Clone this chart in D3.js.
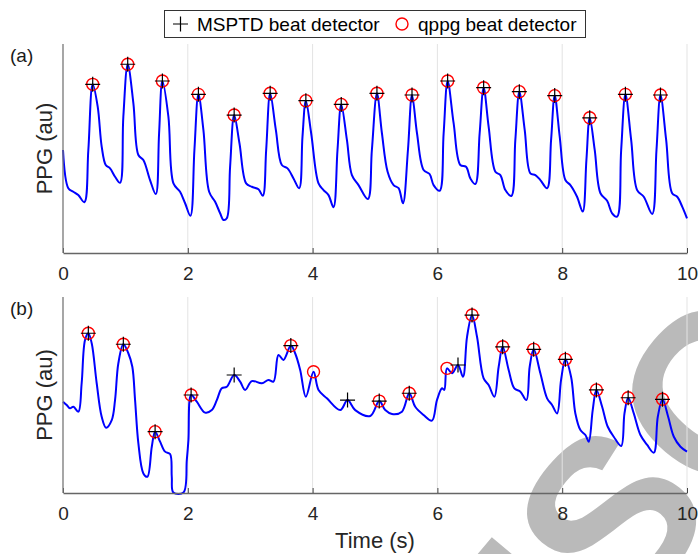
<!DOCTYPE html>
<html>
<head>
<meta charset="utf-8">
<script src="https://cdn.jsdelivr.net/npm/d3@7"></script>
<style>
  body { margin: 0; background: #fff; }
  svg { display: block; font-family: "Liberation Sans", Arial, sans-serif; }
</style>
</head>
<body>
<div id="chart"></div>
<script>
// Panel (a) PPG signal, time in s, amplitude normalised 0..1
var timeA = [0,0.085,0.165,0.245,0.342,0.406,0.476,0.556,0.62,0.685,0.754,0.834,0.914,0.967,1.037,1.128,1.208,1.288,1.395,1.487,1.54,1.593,1.689,1.77,1.876,1.957,2.042,2.106,2.17,2.25,2.342,2.438,2.518,2.571,2.625,2.678,2.743,2.828,2.935,3.026,3.133,3.202,3.256,3.32,3.411,3.507,3.598,3.694,3.785,3.838,3.892,3.977,4.095,4.175,4.255,4.335,4.399,4.459,4.55,4.63,4.736,4.886,4.95,5.031,5.111,5.202,5.298,5.378,5.448,5.528,5.593,5.673,5.779,5.875,5.939,6.036,6.1,6.164,6.26,6.367,6.459,6.528,6.608,6.677,6.741,6.821,6.929,7.009,7.089,7.185,7.249,7.313,7.399,7.49,7.57,7.65,7.758,7.822,7.88,7.96,8.051,8.131,8.238,8.329,8.388,8.441,8.521,8.613,8.72,8.8,8.88,8.945,9.013,9.105,9.201,9.307,9.442,9.511,9.575,9.666,9.762,9.843,9.923,10];
var ppgA = [0.493,0.31,0.293,0.277,0.243,0.493,0.807,0.70,0.509,0.421,0.405,0.365,0.336,0.652,0.903,0.716,0.469,0.445,0.349,0.282,0.573,0.823,0.652,0.333,0.293,0.238,0.178,0.493,0.759,0.589,0.293,0.245,0.19,0.158,0.166,0.413,0.66,0.525,0.333,0.317,0.305,0.274,0.493,0.764,0.589,0.421,0.405,0.357,0.31,0.557,0.729,0.573,0.333,0.301,0.277,0.219,0.493,0.711,0.541,0.373,0.325,0.258,0.493,0.764,0.573,0.389,0.325,0.31,0.238,0.493,0.756,0.573,0.397,0.378,0.325,0.298,0.573,0.823,0.621,0.421,0.413,0.357,0.33,0.573,0.791,0.605,0.389,0.373,0.301,0.273,0.541,0.772,0.589,0.381,0.373,0.349,0.31,0.541,0.753,0.557,0.349,0.325,0.269,0.198,0.445,0.647,0.493,0.286,0.25,0.19,0.174,0.493,0.759,0.541,0.301,0.269,0.187,0.493,0.756,0.541,0.286,0.269,0.222,0.166];

// Beats detected in panel (a) (both detectors agree)
var msptdTimesA = [0.476,1.037,1.593,2.17,2.743,3.32,3.892,4.459,5.031,5.593,6.164,6.741,7.313,7.88,8.441,9.013,9.575];
var msptdValsA = [0.807,0.903,0.823,0.759,0.66,0.764,0.729,0.711,0.764,0.756,0.823,0.791,0.772,0.753,0.647,0.759,0.756];
var qppgTimesA = msptdTimesA.slice();
var qppgValsA = msptdValsA.slice();

// Panel (b) PPG signal
var timeB = [0,0.059,0.112,0.166,0.246,0.299,0.353,0.406,0.46,0.54,0.62,0.69,0.781,0.834,0.887,0.967,1.047,1.111,1.155,1.208,1.288,1.352,1.423,1.476,1.556,1.636,1.716,1.743,1.769,1.93,1.984,2.01,2.053,2.144,2.277,2.385,2.465,2.545,2.625,2.743,2.839,2.919,3.026,3.187,3.293,3.373,3.453,3.533,3.651,3.72,3.801,3.892,4.015,4.095,4.229,4.443,4.56,4.683,4.924,5.068,5.164,5.272,5.432,5.549,5.645,5.779,5.913,5.993,6.074,6.11,6.154,6.234,6.33,6.41,6.475,6.555,6.635,6.741,6.821,6.913,6.982,7.046,7.142,7.233,7.33,7.426,7.479,7.543,7.65,7.758,7.838,7.918,7.982,8.051,8.142,8.211,8.292,8.372,8.425,8.489,8.548,8.64,8.73,8.826,8.945,8.998,9.057,9.147,9.254,9.362,9.468,9.532,9.607,9.698,9.789,9.896,10];
var ppgB = [0.466,0.449,0.432,0.44,0.415,0.56,0.781,0.815,0.764,0.56,0.389,0.333,0.372,0.474,0.662,0.759,0.713,0.644,0.474,0.253,0.1,0.083,0.236,0.313,0.262,0.211,0.199,0.083,0.002,0.002,0.168,0.27,0.5,0.466,0.41,0.423,0.474,0.534,0.542,0.602,0.568,0.526,0.571,0.56,0.577,0.568,0.704,0.679,0.752,0.713,0.628,0.491,0.619,0.526,0.483,0.423,0.474,0.423,0.393,0.469,0.423,0.403,0.415,0.509,0.44,0.398,0.369,0.474,0.534,0.526,0.636,0.611,0.653,0.593,0.797,0.908,0.797,0.585,0.551,0.491,0.644,0.746,0.628,0.534,0.517,0.474,0.644,0.733,0.611,0.483,0.449,0.406,0.577,0.682,0.593,0.406,0.321,0.296,0.262,0.423,0.526,0.44,0.338,0.287,0.24,0.406,0.486,0.406,0.296,0.245,0.206,0.389,0.478,0.389,0.287,0.236,0.211];

var msptdTimesB = [0.406,0.967,1.476,2.053,2.743,3.651,4.56,5.068,5.549,6.33,6.555,7.046,7.543,8.051,8.548,9.057,9.607];
var msptdValsB = [0.815,0.759,0.313,0.5,0.602,0.752,0.474,0.469,0.509,0.653,0.908,0.746,0.733,0.682,0.526,0.486,0.478];
var qppgTimesB = [0.406,0.967,1.476,2.053,3.651,4.015,5.068,5.549,6.154,6.555,7.046,7.543,8.051,8.548,9.057,9.607];
var qppgValsB = [0.815,0.759,0.313,0.5,0.752,0.619,0.469,0.509,0.636,0.908,0.746,0.733,0.682,0.526,0.486,0.478];

var xTicks = [0, 2, 4, 6, 8, 10];
var panelLabels = ["(a)", "(b)"];
var legendLabels = ["MSPTD beat detector", "qppg beat detector"];

var svgWidth = 698;
var svgHeight = 554;
var left = 63, right = 687;

var svg = d3.select("#chart")
  .append("svg")
  .attr("width", svgWidth)
  .attr("height", svgHeight);

// faint watermark behind the plot (runs off the corner, as in the original)
svg.append("text")
  .attr("transform", "translate(622, 628) rotate(-50)")
  .attr("x", -690)
  .attr("font-size", 230)
  .attr("font-weight", "bold")
  .attr("fill", "#bababa")
  .text("MANUSCRIPT");

var xScale = d3.scaleLinear().domain([0, 10]).range([left, right]);

var panels = [
  { top: 44, bottom: 253, t: timeA, v: ppgA, mt: msptdTimesA, mv: msptdValsA, qt: qppgTimesA, qv: qppgValsA },
  { top: 297, bottom: 493, t: timeB, v: ppgB, mt: msptdTimesB, mv: msptdValsB, qt: qppgTimesB, qv: qppgValsB }
];

panels.forEach(function(p, i) {
  var yScale = d3.scaleLinear().domain([0, 1]).range([p.bottom, p.top]);
  var g = svg.append("g");

  // vertical grid lines
  g.selectAll(".grid")
    .data(xTicks.filter(d => d > 0))
    .enter()
    .append("line")
    .attr("x1", d => xScale(d))
    .attr("x2", d => xScale(d))
    .attr("y1", p.top)
    .attr("y2", p.bottom)
    .attr("stroke", "#e3e3e3")
    .attr("stroke-width", 1);

  // signal
  var line = d3.line()
    .x((d, k) => xScale(p.t[k]))
    .y(d => yScale(d))
    .curve(d3.curveCatmullRom.alpha(0.5));

  g.append("path")
    .datum(p.v)
    .attr("d", line)
    .attr("fill", "none")
    .attr("stroke", "#0000ff")
    .attr("stroke-width", 2);

  // qppg circles
  g.selectAll(".qppg")
    .data(p.qt)
    .enter()
    .append("circle")
    .attr("cx", d => xScale(d))
    .attr("cy", (d, k) => yScale(p.qv[k]))
    .attr("r", 6)
    .attr("fill", "none")
    .attr("stroke", "#ff0000")
    .attr("stroke-width", 1.4);

  // MSPTD plus signs
  g.selectAll(".msptd")
    .data(p.mt)
    .enter()
    .append("path")
    .attr("d", (d, k) => {
      var cx = xScale(d), cy = yScale(p.mv[k]);
      return "M" + (cx - 7.5) + "," + cy + "H" + (cx + 7.5) + "M" + cx + "," + (cy - 7.5) + "V" + (cy + 7.5);
    })
    .attr("stroke", "#000")
    .attr("stroke-width", 1.2);

  // axes
  var bottomAxis = d3.axisBottom(xScale)
    .tickValues(xTicks)
    .tickSizeInner(-5)
    .tickSizeOuter(0)
    .tickPadding(14);

  var ax = g.append("g")
    .attr("transform", `translate(0, ${p.bottom})`)
    .call(bottomAxis);
  ax.select(".domain").attr("stroke", "#666").attr("stroke-width", 1.5);
  ax.selectAll(".tick line").attr("stroke", "#444").attr("stroke-width", 1);
  ax.selectAll(".tick text")
    .attr("font-size", 19)
    .attr("font-family", "Liberation Sans, Arial, sans-serif")
    .attr("fill", "#262626");

  g.append("line")
    .attr("x1", left).attr("x2", left)
    .attr("y1", p.top).attr("y2", p.bottom)
    .attr("stroke", "#777")
    .attr("stroke-width", 1.3);

  // y label
  g.append("text")
    .attr("transform", `translate(52, ${(p.top + p.bottom) / 2}) rotate(-90)`)
    .attr("text-anchor", "middle")
    .attr("font-size", 22)
    .attr("fill", "#262626")
    .text("PPG (au)");

  // panel label
  g.append("text")
    .attr("x", 10)
    .attr("y", p.top + 18)
    .attr("font-size", 19)
    .attr("fill", "#1a1a1a")
    .text(panelLabels[i]);
});

// x label
svg.append("text")
  .attr("x", (left + right) / 2)
  .attr("y", 548)
  .attr("text-anchor", "middle")
  .attr("font-size", 22)
  .attr("fill", "#262626")
  .text("Time (s)");

// legend
var legend = svg.append("g");
legend.append("rect")
  .attr("x", 164.5).attr("y", 10.5)
  .attr("width", 421).attr("height", 27)
  .attr("fill", "#fff")
  .attr("stroke", "#333")
  .attr("stroke-width", 1);
legend.append("path")
  .attr("d", "M173,24H188M180.5,16.5V31.5")
  .attr("stroke", "#000")
  .attr("stroke-width", 1.2);
legend.append("text")
  .attr("x", 197).attr("y", 31)
  .attr("font-size", 19)
  .attr("fill", "#000")
  .text(legendLabels[0]);
legend.append("circle")
  .attr("cx", 402).attr("cy", 24).attr("r", 6)
  .attr("fill", "none")
  .attr("stroke", "#ff0000")
  .attr("stroke-width", 1.4);
legend.append("text")
  .attr("x", 418).attr("y", 31)
  .attr("font-size", 19)
  .attr("fill", "#000")
  .text(legendLabels[1]);
</script>
</body>
</html>
